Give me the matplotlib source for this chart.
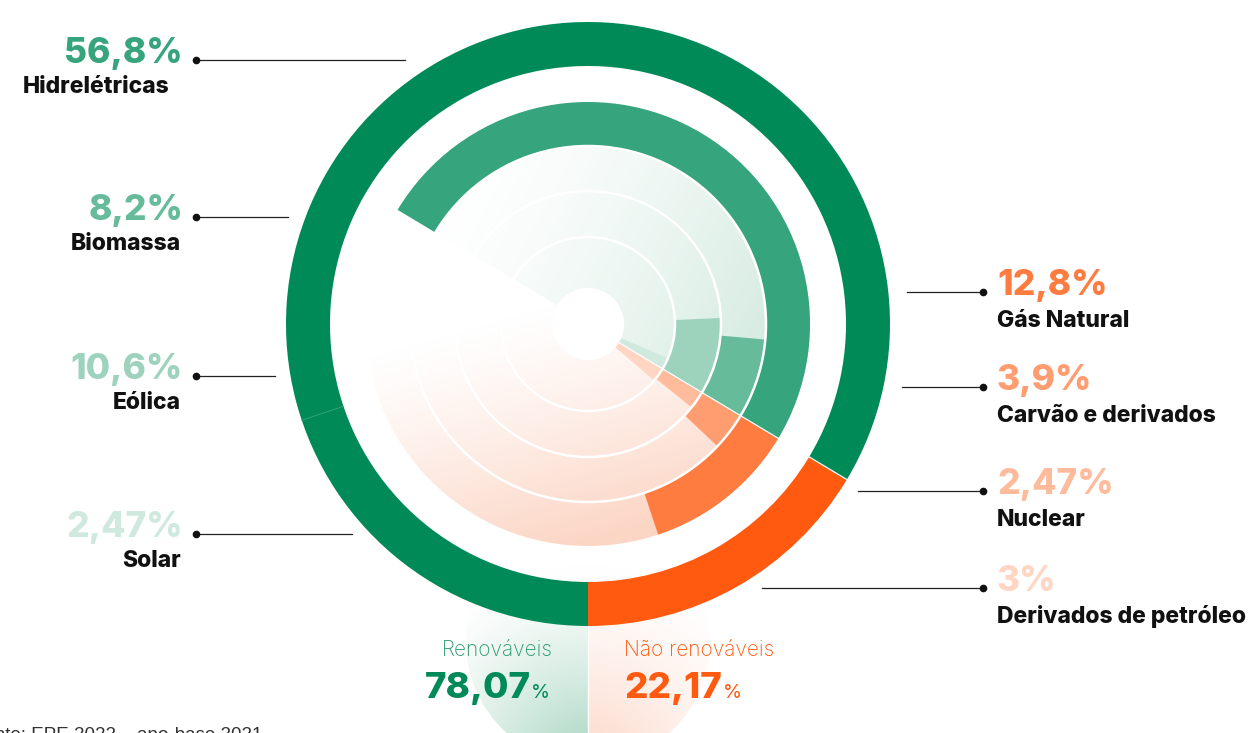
import numpy as np
import matplotlib.pyplot as plt
from matplotlib.patches import Wedge, Circle
from matplotlib.colors import to_rgb

# dados (EPE 2022, ano-base 2021)
renov_nomes = ['Hidrelétricas', 'Biomassa', 'Eólica', 'Solar']
renov_vals = [56.8, 8.2, 10.6, 2.47]
renov_txt = ['56,8%', '8,2%', '10,6%', '2,47%']
nrenov_nomes = ['Gás Natural', 'Carvão e derivados', 'Nuclear', 'Derivados de petróleo']
nrenov_vals = [12.8, 3.9, 2.47, 3.0]
nrenov_txt = ['12,8%', '3,9%', '2,47%', '3%']
totais_nomes = ['Renováveis', 'Não renováveis']
totais_vals = [78.07, 22.17]
totais_txt = ['78,07', '22,17']

W, H = 1252, 733
CX, CY = 588, 324
SPLIT = -31          # ângulo (tela) da divisão renováveis / não renováveis
DEG_PER_PCT = 3.17   # escala dos anéis internos

VERDE = '#008a57'
LARANJA = '#ff5a10'
cores_renov = ['#36a47c', '#66bb9a', '#9dd2bd', '#cfe9df']
cores_nrenov = ['#ff7c40', '#ff9c70', '#ffbb9c', '#ffd6c4']

ANEL_EXT = (258, 302)
ANEIS = [(178, 222), (133, 178), (87, 133), (36, 87)]

FONTE = ['Inter', 'DejaVu Sans']
plt.rcParams['font.family'] = FONTE

fig = plt.figure(figsize=(W / 100, H / 100), dpi=100)
ax = fig.add_axes([0, 0, 1, 1])
ax.set_xlim(0, W)
ax.set_ylim(H, 0)
ax.axis('off')


def arco(r_in, r_out, a1, a2, color, z=3, centro=(CX, CY)):
    """arco entre os ângulos de tela a1 -> a2 (anti-horário)"""
    w = Wedge(centro, r_out, -a2, -a1, width=r_out - r_in,
              facecolor=color, edgecolor='none', zorder=z)
    ax.add_patch(w)
    return w


yy, xx = np.mgrid[0:H, 0:W] + 0.5


def degrade_linear(p0, p1, cor, gamma=1.0):
    d = np.array(p1, float) - np.array(p0, float)
    t = ((xx - p0[0]) * d[0] + (yy - p0[1]) * d[1]) / (d @ d)
    t = np.clip(t, 0, 1) ** gamma
    c = np.array(to_rgb(cor))
    return np.ones((H, W, 3)) * (1 - t[..., None]) + c * t[..., None]


def degrade_radial(p0, raio, cor, gamma=1.0):
    t = 1 - np.hypot(xx - p0[0], yy - p0[1]) / raio
    t = np.clip(t, 0, 1) ** gamma
    c = np.array(to_rgb(cor))
    return np.ones((H, W, 3)) * (1 - t[..., None]) + c * t[..., None]


def imagem_recortada(img, patch, z):
    ax.add_patch(patch)
    im = ax.imshow(img, extent=(0, W, H, 0), zorder=z, interpolation='bilinear')
    im.set_clip_path(patch)


# semicírculos de fundo sob os totais
BC = (588, 642)
meia_v = Wedge(BC, 122, 90, 270, facecolor='none', edgecolor='none')
imagem_recortada(degrade_radial((588, 765), 200, '#a6d5c0', 1.3), meia_v, 0.5)
meia_n = Wedge(BC, 122, -90, 90, facecolor='none', edgecolor='none')
imagem_recortada(degrade_radial((588, 765), 200, '#fcd8c8', 1.3), meia_n, 0.5)
ax.plot([588, 588], [560, H], color='white', lw=1, zorder=0.6)

# fundo dos trilhos internos
trilho_v = Wedge((CX, CY), ANEIS[0][1], -(SPLIT + 180), -SPLIT,
                 width=ANEIS[0][1] - ANEIS[-1][0], facecolor='none', edgecolor='none')
imagem_recortada(degrade_linear((450, 190), (800, 370), '#cfe8dd', 1.4), trilho_v, 1)
trilho_n = Wedge((CX, CY), ANEIS[0][1], -SPLIT, -(SPLIT - 180),
                 width=ANEIS[0][1] - ANEIS[-1][0], facecolor='none', edgecolor='none')
imagem_recortada(degrade_linear((500, 320), (565, 548), '#fcd6c5', 1.2), trilho_n, 1)

# anel externo
arco(*ANEL_EXT, SPLIT, 270, VERDE)
arco(*ANEL_EXT, -90, SPLIT, LARANJA)
ang = np.radians(198.6)
ax.plot([CX + ANEL_EXT[0] * np.cos(ang), CX + ANEL_EXT[1] * np.cos(ang)],
        [CY - ANEL_EXT[0] * np.sin(ang), CY - ANEL_EXT[1] * np.sin(ang)],
        color='#3aa77e', lw=0.6, zorder=4)

# anéis internos
for (r_in, r_out), v, c in zip(ANEIS, renov_vals, cores_renov):
    arco(r_in, r_out, SPLIT, SPLIT + v * DEG_PER_PCT, c)
for (r_in, r_out), v, c in zip(ANEIS, nrenov_vals, cores_nrenov):
    arco(r_in, r_out, SPLIT - v * DEG_PER_PCT, SPLIT, c)

# separadores brancos
for r in [ANEIS[1][1], ANEIS[2][1], ANEIS[3][1]]:
    ax.add_patch(Circle((CX, CY), r, facecolor='none', edgecolor='white', lw=1.8, zorder=5))
ax.add_patch(Circle((CX, CY), ANEIS[-1][0], facecolor='white', edgecolor='none', zorder=5))
a = np.radians(SPLIT)
ax.plot([CX + 36 * np.cos(a), CX + 303 * np.cos(a)],
        [CY - 36 * np.sin(a), CY - 303 * np.sin(a)], color='white', lw=0.9, zorder=6)

# rótulos à esquerda
esq_y = [60, 217, 376, 534]
esq_fim = [405, 288, 275, 352]
esq_nome_x = [170, 181, 181, 181]
for i in range(4):
    y = esq_y[i]
    ax.plot([196, esq_fim[i]], [y, y], color='#222222', lw=0.9, zorder=6)
    ax.plot(196, y, 'o', color='#111111', ms=4.5, zorder=7)
    ax.text(183, y + 3, renov_txt[i], ha='right', va='baseline', fontsize=25.5,
            fontweight='heavy', color=cores_renov[i])
    ax.text(esq_nome_x[i], y + 33, renov_nomes[i], ha='right', va='baseline',
            fontsize=16.5, fontweight='heavy', color='#111111')

# rótulos à direita
dir_y = [292, 387, 491, 588]
dir_ini = [907, 902, 858, 762]
for i in range(4):
    y = dir_y[i]
    ax.plot([dir_ini[i], 983], [y, y], color='#222222', lw=0.9, zorder=6)
    ax.plot(983, y, 'o', color='#111111', ms=4.5, zorder=7)
    ax.text(997, y + 3, nrenov_txt[i], ha='left', va='baseline', fontsize=25.5,
            fontweight='heavy', color=cores_nrenov[i])
    ax.text(997, y + 35, nrenov_nomes[i], ha='left', va='baseline',
            fontsize=16.5, fontweight='heavy', color='#111111')

# totais
ax.text(553, 656, totais_nomes[0], ha='right', va='baseline', fontsize=15,
        color='#2a9a6e', fontweight='light')
ax.text(624, 656, totais_nomes[1], ha='left', va='baseline', fontsize=15,
        color=LARANJA, fontweight='light')
ax.text(425, 698, totais_txt[0], ha='left', va='baseline', fontsize=26.5,
        fontweight='heavy', color=VERDE)
ax.text(531, 698, '%', ha='left', va='baseline', fontsize=14, color=VERDE)
ax.text(624, 698, totais_txt[1], ha='left', va='baseline', fontsize=26.5,
        fontweight='heavy', color=LARANJA)
ax.text(723, 698, '%', ha='left', va='baseline', fontsize=14, color=LARANJA)

# fonte (cortada na borda inferior, como na referência)
ax.text(262, 727, 'Fonte: EPE 2022 – ano-base 2021', ha='right', va='top',
        fontsize=13.5, color='#333333', family=['Liberation Sans', 'DejaVu Sans'])

fig.savefig('out.png', dpi=100)
